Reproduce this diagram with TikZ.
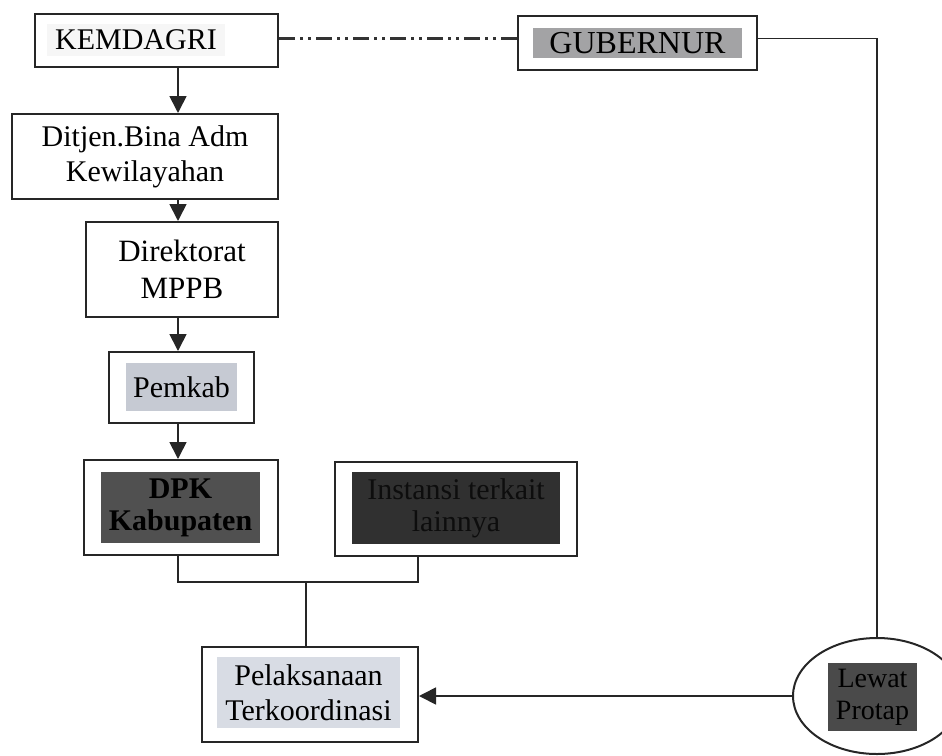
\documentclass[tikz,border=0pt]{standalone}
\usepackage{fontspec}
\setmainfont{Liberation Serif}
\usetikzlibrary{arrows.meta,shapes.geometric}
\definecolor{pemfill}{HTML}{C6CAD3}
\definecolor{pelfill}{HTML}{D8DCE4}
\definecolor{gubfill}{HTML}{A3A3A5}
\definecolor{dpkfill}{HTML}{505050}
\definecolor{insfill}{HTML}{303030}
\definecolor{lewfill}{HTML}{4A4A4A}
\definecolor{kemfill}{HTML}{F6F6F6}
\tikzset{
  box/.style={draw=black!85, line width=2pt, inner sep=0pt, align=center},
  filler/.style={inner sep=0pt, align=center},
  arr/.style={line width=1.7pt, draw=black!85, -{Triangle[length=17pt,width=17pt]}},
  conn/.style={line width=1.7pt, draw=black!85},
  dashdotline/.style={line width=2.2pt, draw=black!80, dash pattern=on 16pt off 5pt on 3pt off 5pt on 3pt off 5pt},
  txt/.style={font=\fontsize{30}{35}\selectfont},
}
\begin{document}
\begin{tikzpicture}[x=1pt,y=-1pt]
\useasboundingbox (0,0) rectangle (942,755);
\clip (0,0) rectangle (942,755);
% column and junction coordinates
\coordinate (colx) at (178,0);
\coordinate (dashy) at (0,38.5);
\coordinate (joinL) at (178,582);
\coordinate (joinR) at (418,582);
\coordinate (joinM) at (306,582);
% boxes
\node[box, minimum width=243pt, minimum height=53pt] (kem) at (156.5,40.5) {};
\node[filler, fill=kemfill, minimum width=178pt, minimum height=32pt, font=\fontsize{30}{34}\selectfont] (kemt) at (136,40) {KEMDAGRI};
\node[box, minimum width=239pt, minimum height=54pt] (gub) at (637.5,43) {};
\node[filler, fill=gubfill, minimum width=209pt, minimum height=30pt, font=\fontsize{32}{34}\selectfont] (gubt) at (637.5,43) {GUBERNUR};
\node[box, minimum width=266pt, minimum height=85pt, font=\fontsize{30}{35}\selectfont] (dit) at (145,156.5) {Ditjen.Bina Adm\\Kewilayahan};
\node[box, minimum width=192pt, minimum height=95pt, font=\fontsize{31}{37}\selectfont] (dir) at (182,269.5) {Direktorat\\MPPB};
\node[box, minimum width=145pt, minimum height=71pt] (pem) at (181.5,387.5) {};
\node[filler, fill=pemfill, minimum width=111pt, minimum height=48pt, txt] (pemt) at (181.5,387) {Pemkab};
\node[box, minimum width=194pt, minimum height=95pt] (dpk) at (181,507.5) {};
\node[filler, fill=dpkfill, minimum width=159pt, minimum height=71pt, font=\fontsize{30}{32}\selectfont\bfseries] (dpkt) at (180.5,507.5) {DPK\\Kabupaten};
\node[box, minimum width=242pt, minimum height=94pt] (ins) at (456,509) {};
\node[filler, fill=insfill, text=black!95, minimum width=208pt, minimum height=72pt, font=\fontsize{30}{32}\selectfont] (inst) at (456,508) {Instansi terkait\\lainnya};
\node[box, minimum width=216pt, minimum height=95pt] (pel) at (310,694.5) {};
\node[filler, fill=pelfill, minimum width=183pt, minimum height=71pt, font=\fontsize{30}{35}\selectfont] (pelt) at (308.5,692.5) {Pelaksanaan\\Terkoordinasi};
\node[draw=black!85, line width=2pt, ellipse, minimum width=168pt, minimum height=116pt, inner sep=0pt] (lew) at (877,696) {};
\node[filler, fill=lewfill, text=black, minimum width=89pt, minimum height=68pt, font=\fontsize{28}{32}\selectfont] (lewt) at (872.5,697) {Lewat\\Protap};
% connectors
\draw[arr] (kem.south -| colx) -- (dit.north -| colx);
\draw[arr] (dit.south -| colx) -- (dir.north -| colx);
\draw[arr] (dir.south -| colx) -- (pem.north -| colx);
\draw[arr] (pem.south -| colx) -- (dpk.north -| colx);
\draw[dashdotline] (kem.east |- dashy) -- (gub.west |- dashy);
\draw[conn] (gub.east |- dashy) -| (lew.north);
\draw[conn] (dpk.south -| joinL) -- (joinL) -- (joinR) -- (ins.south -| joinR);
\draw[conn] (joinM) -- (pel.north -| joinM);
\draw[arr] (lew.west) -- (lew.west -| pel.east);
\end{tikzpicture}
\end{document}
